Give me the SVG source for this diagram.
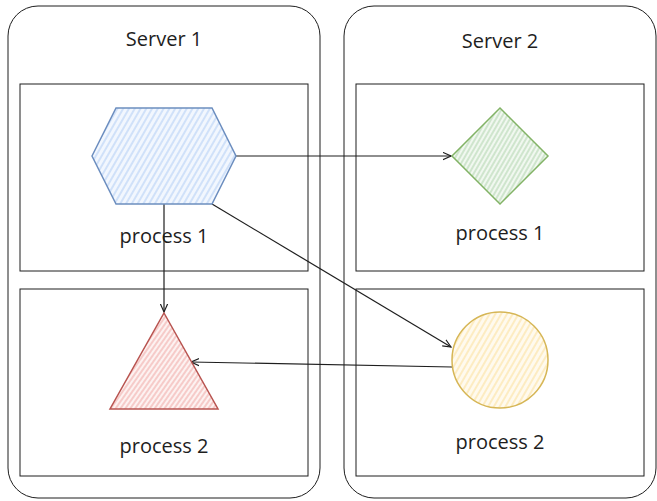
<svg xmlns="http://www.w3.org/2000/svg" width="657" height="501" viewBox="0 0 657 501">
<style>
.box{fill:none;stroke:#1e1e1e;stroke-width:1}
.lbl{font-family:"Open Sans","Liberation Sans",sans-serif;font-size:20px;fill:#1e1e1e;text-anchor:middle}
.conn{fill:none;stroke:#1e1e1e;stroke-width:1.2}
</style>
<defs>
<pattern id="hBlue" width="5" height="5" patternUnits="userSpaceOnUse" patternTransform="rotate(30)"><rect width="5" height="5" fill="#f2f7fe"/><line x1="1" y1="0" x2="1" y2="5" stroke="#cddff9" stroke-width="1.8"/></pattern>
<pattern id="hGreen" width="4" height="4" patternUnits="userSpaceOnUse" patternTransform="rotate(30)"><rect width="4" height="4" fill="#f1f8f0"/><line x1="1" y1="0" x2="1" y2="4" stroke="#c7e1c5" stroke-width="1.6"/></pattern>
<pattern id="hRed" width="4" height="4" patternUnits="userSpaceOnUse" patternTransform="rotate(35)"><rect width="4" height="4" fill="#fdf2f1"/><line x1="1" y1="0" x2="1" y2="4" stroke="#f5c1bf" stroke-width="1.6"/></pattern>
<pattern id="hYellow" width="5" height="5" patternUnits="userSpaceOnUse" patternTransform="rotate(30)"><rect width="5" height="5" fill="#fffaee"/><line x1="1" y1="0" x2="1" y2="5" stroke="#fdebbd" stroke-width="1.8"/></pattern>
<marker id="arr" viewBox="0 0 10 10" refX="9" refY="5" markerWidth="9" markerHeight="9" orient="auto" markerUnits="userSpaceOnUse"><path d="M0,1 L9,5 L0,9" fill="none" stroke="#1e1e1e" stroke-width="1.3"/></marker>
</defs>
<g id="server1">
<rect class="box" x="8" y="6" width="312" height="492" rx="30"/>
<text class="lbl" x="164" y="46">Server 1</text>
</g>
<g id="server2">
<rect class="box" x="344" y="6" width="312" height="492" rx="30"/>
<text class="lbl" x="500" y="48">Server 2</text>
</g>
<g id="s1top"><rect class="box" x="20" y="84" width="288" height="187"/></g>
<g id="s1bottom"><rect class="box" x="20" y="289" width="288" height="187"/></g>
<g id="s2top"><rect class="box" x="356" y="84" width="288" height="187"/></g>
<g id="s2bottom"><rect class="box" x="356" y="289" width="288" height="187"/></g>
<g id="connectors">
<path class="conn" d="M236,156 L451,156" marker-end="url(#arr)"/>
<path class="conn" d="M164,204 L164,312" marker-end="url(#arr)"/>
<path class="conn" d="M212,204 L451,347" marker-end="url(#arr)"/>
<path class="conn" d="M452,367 L191,362" marker-end="url(#arr)"/>
</g>
<g id="hexagon">
<polygon points="92,156 116,108 212,108 236,156 212,204 116,204" fill="url(#hBlue)" stroke="#6c8ebf" stroke-width="1.5"/>
<text class="lbl" x="164" y="243">process 1</text>
</g>
<g id="diamond">
<polygon points="500,108 548,156 500,204 452,156" fill="url(#hGreen)" stroke="#82b366" stroke-width="1.5"/>
<text class="lbl" x="500" y="240">process 1</text>
</g>
<g id="triangle">
<polygon points="164,313 218,409 110,409" fill="url(#hRed)" stroke="#b85450" stroke-width="1.5"/>
<text class="lbl" x="164" y="453">process 2</text>
</g>
<g id="circle">
<circle cx="500" cy="360" r="48" fill="url(#hYellow)" stroke="#d6b656" stroke-width="1.5"/>
<text class="lbl" x="500" y="449">process 2</text>
</g>
</svg>
